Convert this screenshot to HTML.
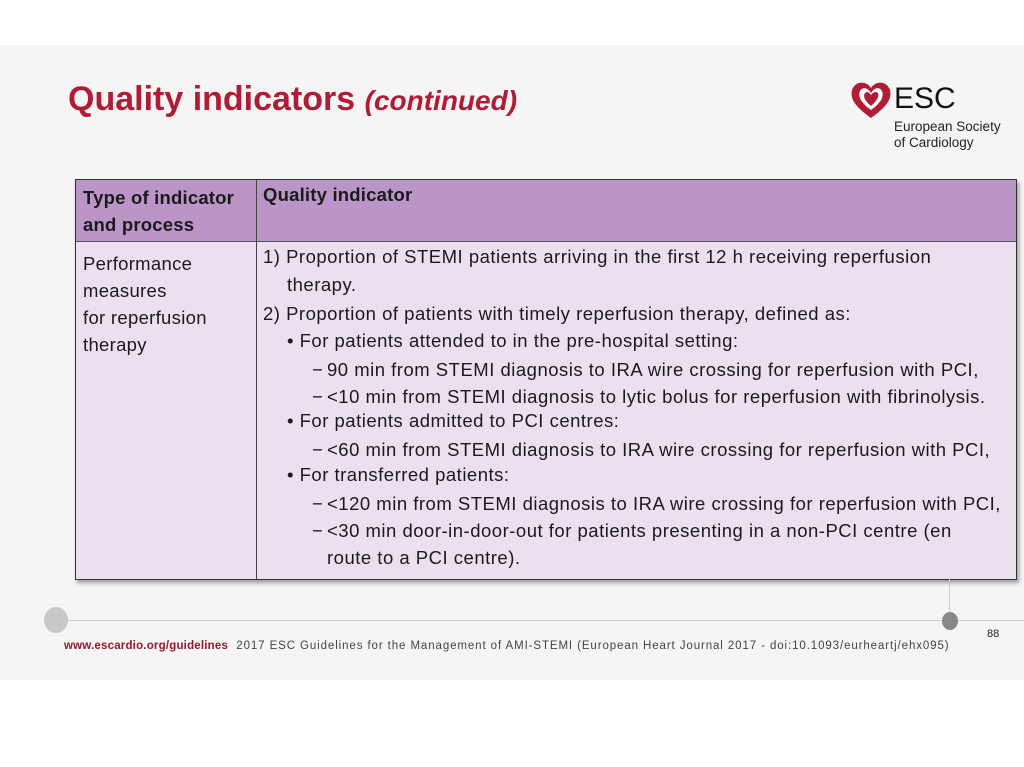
<!DOCTYPE html>
<html><head><style>
body{margin:0;width:1024px;height:767px;background:#fff;position:relative;overflow:hidden;font-family:"Liberation Sans",sans-serif}
.slide{position:absolute;left:0;top:45px;width:1024px;height:635px;background:#f6f5f5}
.t{position:absolute;white-space:nowrap;color:#222}
#tbl{position:absolute;left:75px;top:179px;width:940px;height:399px;border:1.5px solid #333;background:#ecdff0;box-shadow:2px 3px 4px #999}
#hdr{position:absolute;left:0;top:0;width:940px;height:61px;background:#bb94c8;border-bottom:1px solid #555}
#div{position:absolute;left:180px;top:0;width:1px;height:399px;background:#444}
.c{font-size:18.5px;letter-spacing:0.5px;color:#1a1a1a}
</style></head><body>
<div class="slide"></div>
<div class="t" style="left:68px;top:80px;font-size:34px;font-weight:bold;color:#b01c33">Quality indicators <i style="font-size:28px">(continued)</i></div>
<svg style="position:absolute;left:850px;top:80px" width="42" height="40"><path d="M21 38 C4 26 0 18 2 10 C5 1 16 0 21 8 C26 0 37 1 40 10 C42 18 38 26 21 38Z" fill="#b01c33"/><path d="M21 30 C10 22 8 16 10 11 C13 6 18 8 21 13 C24 8 29 6 32 11 C34 16 32 22 21 30Z" fill="#fff"/><path d="M21 26 C14 20 13 16 15 13 C17 11 19 12 21 15 C23 12 26 11 28 13 C29 16 28 20 21 26Z" fill="#b01c33"/></svg>
<div class="t" style="left:894px;top:82px;font-size:30px;color:#111">ESC</div>
<div class="t" style="left:894px;top:119px;font-size:13.5px;line-height:16px;color:#222">European Society<br>of Cardiology</div>
<div id="tbl"><div id="hdr"></div><div id="div"></div></div>
<div class="t c" style="left:83px;top:184px;font-weight:bold;line-height:27px;letter-spacing:0.2px">Type of indicator<br>and process</div>
<div class="t c" style="left:263px;top:184px;font-weight:bold;letter-spacing:0.2px">Quality indicator</div>
<div class="t c" style="left:83px;top:250px;line-height:27px;letter-spacing:0.3px">Performance<br>measures<br>for reperfusion<br>therapy</div>
<div class="t c" style="left:263px;top:246px">1) Proportion of STEMI patients arriving in the first 12 h receiving reperfusion</div>
<div class="t c" style="left:287px;top:274px">therapy.</div>
<div class="t c" style="left:263px;top:303px">2) Proportion of patients with timely reperfusion therapy, defined as:</div>
<div class="t c" style="left:287px;top:330px">• For patients attended to in the pre-hospital setting:</div>
<div class="t c" style="left:287px;top:410px">• For patients admitted to PCI centres:</div>
<div class="t c" style="left:287px;top:464px">• For transferred patients:</div>
<div class="t c" style="left:312px;top:357px;line-height:26.8px">−<br>−<br><br>−<br><br>−<br>−</div>
<div class="t c" style="left:327px;top:357px;line-height:26.8px">90 min from STEMI diagnosis to IRA wire crossing for reperfusion with PCI,<br>&lt;10 min from STEMI diagnosis to lytic bolus for reperfusion with fibrinolysis.<br><br>&lt;60 min from STEMI diagnosis to IRA wire crossing for reperfusion with PCI,<br><br>&lt;120 min from STEMI diagnosis to IRA wire crossing for reperfusion with PCI,<br>&lt;30 min door-in-door-out for patients presenting in a non-PCI centre (en<br>route to a PCI centre).</div>
<div style="position:absolute;left:55px;top:620px;width:969px;height:1px;background:#ccc"></div>
<div style="position:absolute;left:949px;top:578px;width:1px;height:42px;background:#ccc"></div>
<div style="position:absolute;left:44px;top:607px;width:24px;height:26px;border-radius:50%;background:#c8c8c8"></div>
<div style="position:absolute;left:942px;top:612px;width:16px;height:18px;border-radius:50%;background:#888"></div>
<div class="t" style="left:987px;top:628px;font-size:11px">88</div>
<div class="t" style="left:64px;top:640px;font-size:11.5px;letter-spacing:0.9px"><b style="color:#8a1c2c;letter-spacing:0.2px">www.escardio.org/guidelines</b>&nbsp; <span style="color:#444">2017 ESC Guidelines for the Management of AMI-STEMI (European Heart Journal 2017 - doi:10.1093/eurheartj/ehx095)</span></div>
</body></html>
